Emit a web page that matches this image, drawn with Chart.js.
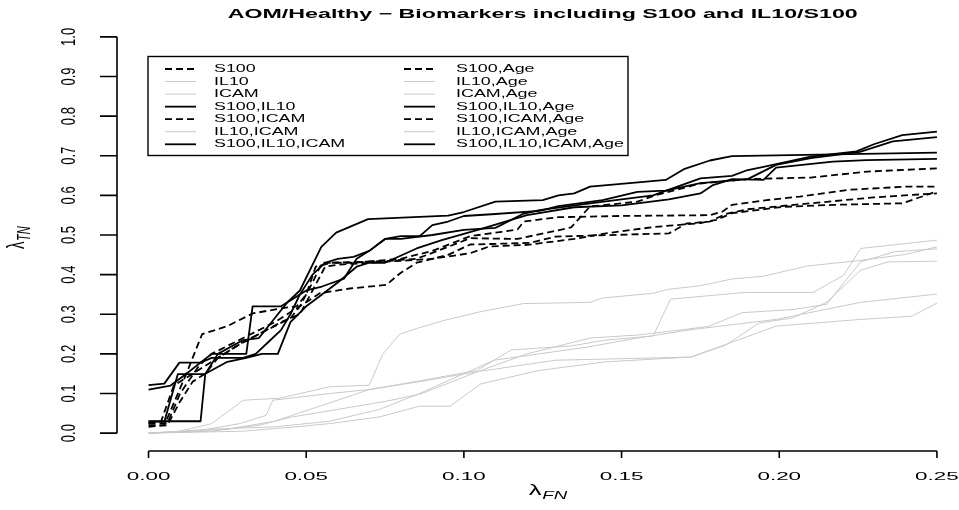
<!DOCTYPE html>
<html>
<head>
<meta charset="utf-8">
<script src="https://cdn.jsdelivr.net/npm/chart.js@4/dist/chart.umd.min.js"></script>
<style>
  body { margin: 0; background: #fff; }
  canvas { display: block; }
</style>
</head>
<body>
<canvas id="graf" width="959" height="510"></canvas>
<script>
// osi
const xTicks = [0, 0.05, 0.10, 0.15, 0.20, 0.25];
const xTickLabels = ['0.00', '0.05', '0.10', '0.15', '0.20', '0.25'];
const yTicks = [0, 0.1, 0.2, 0.3, 0.4, 0.5, 0.6, 0.7, 0.8, 0.9, 1.0];
const yTickLabels = ['0.0', '0.1', '0.2', '0.3', '0.4', '0.5', '0.6', '0.7', '0.8', '0.9', '1.0'];

const naslov = 'AOM/Healthy \u2212 Biomarkers including S100 and IL10/S100';
const imena = ['S100', 'IL10', 'ICAM', 'S100,IL10', 'S100,ICAM', 'IL10,ICAM', 'S100,IL10,ICAM'];

// krivulje [lambdaFN, lambdaTN]
const s100 = [[0,0.02],[0.005,0.02],[0.012,0.15],[0.017,0.25],[0.025,0.27],[0.033,0.302],[0.042,0.315],[0.047,0.32],[0.05,0.35],[0.053,0.42],[0.058,0.43],[0.075,0.434],[0.085,0.44],[0.095,0.47],[0.102,0.492],[0.117,0.49],[0.134,0.519],[0.14,0.572],[0.155,0.584],[0.161,0.601],[0.175,0.63],[0.19,0.641],[0.21,0.645],[0.228,0.66],[0.25,0.668]];
const il10 = [[0,0],[0.01,0.005],[0.02,0.024],[0.03,0.083],[0.0415,0.088],[0.0574,0.117],[0.07,0.121],[0.0743,0.2],[0.0797,0.25],[0.085,0.264],[0.094,0.285],[0.105,0.306],[0.119,0.327],[0.14,0.33],[0.144,0.341],[0.16,0.353],[0.165,0.363],[0.175,0.372],[0.185,0.389],[0.195,0.396],[0.209,0.422],[0.226,0.436],[0.24,0.451],[0.25,0.47]];
const icam = [[0,0],[0.02,0.01],[0.04,0.016],[0.0574,0.03],[0.0733,0.06],[0.0859,0.1],[0.1096,0.184],[0.1398,0.218],[0.155,0.24],[0.172,0.261],[0.199,0.287],[0.2258,0.33],[0.25,0.351]];
const s100Il10 = [[0,0.121],[0.005,0.125],[0.0098,0.178],[0.0165,0.178],[0.02,0.19],[0.03,0.19],[0.034,0.2],[0.038,0.23],[0.042,0.26],[0.045,0.3],[0.048,0.35],[0.052,0.4],[0.056,0.43],[0.06,0.44],[0.065,0.445],[0.07,0.46],[0.075,0.49],[0.08,0.497],[0.086,0.497],[0.09,0.525],[0.095,0.534],[0.1,0.548],[0.11,0.553],[0.124,0.561],[0.13,0.573],[0.144,0.588],[0.155,0.609],[0.164,0.612],[0.175,0.631],[0.19,0.641],[0.199,0.677],[0.21,0.694],[0.2256,0.71],[0.236,0.736],[0.25,0.747]];
const s100Icam = [[0,0.025],[0.006,0.025],[0.01,0.1],[0.016,0.17],[0.02,0.2],[0.025,0.22],[0.03,0.24],[0.04,0.28],[0.048,0.32],[0.052,0.38],[0.055,0.43],[0.065,0.43],[0.08,0.44],[0.09,0.46],[0.102,0.497],[0.112,0.508],[0.117,0.514],[0.119,0.534],[0.13,0.545],[0.15,0.548],[0.178,0.55],[0.182,0.559],[0.185,0.576],[0.196,0.588],[0.2065,0.597],[0.222,0.614],[0.24,0.622],[0.25,0.622]];
const il10Icam = [[0,0],[0.015,0.005],[0.0289,0.024],[0.0373,0.045],[0.0394,0.083],[0.0574,0.1],[0.07,0.11],[0.086,0.132],[0.104,0.158],[0.115,0.21],[0.134,0.22],[0.145,0.235],[0.16,0.245],[0.1655,0.338],[0.189,0.355],[0.2107,0.355],[0.2204,0.398],[0.2258,0.466],[0.25,0.487]];
const s100Il10Icam = [[0,0.029],[0.005,0.029],[0.0093,0.149],[0.018,0.149],[0.022,0.2],[0.03,0.235],[0.035,0.24],[0.04,0.29],[0.044,0.33],[0.048,0.36],[0.0548,0.47],[0.0595,0.506],[0.0696,0.54],[0.095,0.549],[0.1,0.558],[0.11,0.584],[0.125,0.588],[0.13,0.6],[0.135,0.605],[0.14,0.622],[0.157,0.634],[0.164,0.639],[0.17,0.667],[0.178,0.688],[0.185,0.699],[0.25,0.708]];
const s100Age = [[0,0.016],[0.006,0.02],[0.01,0.08],[0.014,0.13],[0.018,0.15],[0.022,0.19],[0.03,0.23],[0.04,0.27],[0.045,0.29],[0.048,0.32],[0.0543,0.353],[0.0638,0.365],[0.0754,0.374],[0.0797,0.403],[0.085,0.43],[0.095,0.45],[0.102,0.476],[0.121,0.48],[0.129,0.496],[0.165,0.504],[0.1706,0.529],[0.178,0.534],[0.183,0.553],[0.19,0.565],[0.21,0.58],[0.23,0.595],[0.25,0.605]];
const il10Age = [[0,0],[0.02,0.005],[0.035,0.02],[0.045,0.04],[0.06,0.06],[0.075,0.08],[0.086,0.098],[0.1053,0.158],[0.12,0.2],[0.14,0.24],[0.1557,0.248],[0.1774,0.269],[0.1882,0.304],[0.2044,0.312],[0.215,0.325],[0.2258,0.432],[0.2366,0.458],[0.25,0.465]];
const icamAge = [[0,0],[0.03,0.005],[0.0468,0.016],[0.0574,0.024],[0.0733,0.041],[0.0859,0.068],[0.0956,0.068],[0.1053,0.124],[0.1236,0.158],[0.145,0.18],[0.172,0.192],[0.199,0.27],[0.2258,0.287],[0.242,0.295],[0.25,0.328]];
const s100Il10Age = [[0,0.11],[0.007,0.12],[0.012,0.15],[0.02,0.2],[0.025,0.2],[0.031,0.2],[0.033,0.32],[0.042,0.32],[0.046,0.34],[0.05,0.36],[0.055,0.37],[0.062,0.39],[0.066,0.44],[0.07,0.46],[0.075,0.49],[0.08,0.49],[0.09,0.5],[0.1,0.513],[0.11,0.518],[0.1187,0.553],[0.124,0.563],[0.14,0.58],[0.15,0.59],[0.16,0.6],[0.175,0.643],[0.185,0.649],[0.19,0.664],[0.195,0.672],[0.21,0.698],[0.2245,0.711],[0.23,0.729],[0.239,0.752],[0.25,0.761]];
const s100IcamAge = [[0,0.025],[0.004,0.03],[0.008,0.12],[0.012,0.14],[0.016,0.16],[0.02,0.18],[0.028,0.22],[0.035,0.25],[0.042,0.28],[0.048,0.3],[0.052,0.36],[0.056,0.42],[0.06,0.425],[0.07,0.43],[0.09,0.44],[0.102,0.454],[0.108,0.471],[0.12,0.475],[0.135,0.49],[0.144,0.503],[0.16,0.52],[0.175,0.53],[0.18,0.538],[0.185,0.555],[0.201,0.571],[0.217,0.576],[0.239,0.58],[0.25,0.61]];
const il10IcamAge = [[0,0],[0.025,0.01],[0.04,0.03],[0.055,0.07],[0.07,0.11],[0.086,0.13],[0.1042,0.155],[0.129,0.184],[0.172,0.192],[0.183,0.222],[0.1936,0.278],[0.2044,0.291],[0.215,0.33],[0.2258,0.411],[0.2345,0.432],[0.25,0.434]];
const s100Il10IcamAge = [[0,0.03],[0.005,0.03],[0.0165,0.03],[0.018,0.15],[0.025,0.18],[0.031,0.19],[0.036,0.2],[0.041,0.2],[0.045,0.28],[0.05,0.32],[0.055,0.35],[0.06,0.38],[0.066,0.42],[0.07,0.43],[0.075,0.43],[0.085,0.466],[0.093,0.487],[0.105,0.514],[0.12,0.55],[0.135,0.57],[0.15,0.575],[0.165,0.59],[0.175,0.605],[0.179,0.626],[0.185,0.641],[0.195,0.639],[0.199,0.67],[0.217,0.685],[0.2277,0.689],[0.25,0.692]];

const brezStarosti = [s100, il10, icam, s100Il10, s100Icam, il10Icam, s100Il10Icam];
const sStarostjo = [s100Age, il10Age, icamAge, s100Il10Age, s100IcamAge, il10IcamAge, s100Il10IcamAge];
const tipi = ['dash', 'gray', 'gray', 'solid', 'dash', 'gray', 'solid'];

const slog = {
  dash:  { borderColor: '#000', borderWidth: 1.8, borderDash: [7, 4], order: 0 },
  solid: { borderColor: '#000', borderWidth: 1.8, borderDash: [], order: 0 },
  gray:  { borderColor: '#c9c9c9', borderWidth: 1, borderDash: [], order: 1 }
};

const datasets = [];
[brezStarosti, sStarostjo].forEach((skupina, k) => {
  skupina.forEach((tocke, i) => {
    datasets.push(Object.assign({
      label: imena[i] + (k ? ',Age' : ''),
      data: tocke.map(p => ({ x: p[0], y: p[1] })),
      pointRadius: 0,
      tension: 0,
      fill: false,
      borderJoinStyle: 'round'
    }, slog[tipi[i]]));
  });
});

const FONT = '"Liberation Sans", Arial, sans-serif';

// raztegnjen napis (graf je bil vodoravno raztegnjen)
function napis(ctx, txt, x, y, font, sx, align) {
  ctx.save();
  ctx.font = font;
  ctx.translate(x, y);
  ctx.scale(sx, 1);
  ctx.textAlign = align || 'center';
  ctx.textBaseline = 'middle';
  ctx.fillText(txt, 0, 0);
  ctx.restore();
}

const rOsi = {
  id: 'rOsi',
  afterDraw(chart) {
    const { ctx, chartArea: a, scales: { x, y } } = chart;
    ctx.save();
    ctx.strokeStyle = '#000';
    ctx.fillStyle = '#000';
    ctx.lineWidth = 1.6;
    ctx.setLineDash([]);

    // x os
    const yOs = a.bottom + 2;
    ctx.beginPath();
    ctx.moveTo(x.getPixelForValue(xTicks[0]), yOs);
    ctx.lineTo(x.getPixelForValue(xTicks[xTicks.length - 1]), yOs);
    xTicks.forEach(v => {
      const px = x.getPixelForValue(v);
      ctx.moveTo(px, yOs);
      ctx.lineTo(px, yOs + 7);
    });
    // y os
    const xOs = a.left;
    ctx.moveTo(xOs, y.getPixelForValue(yTicks[0]));
    ctx.lineTo(xOs, y.getPixelForValue(yTicks[yTicks.length - 1]));
    yTicks.forEach(v => {
      const py = y.getPixelForValue(v);
      ctx.moveTo(xOs, py);
      ctx.lineTo(xOs - 17, py);
    });
    ctx.stroke();

    xTicks.forEach((v, i) => napis(ctx, xTickLabels[i], x.getPixelForValue(v), yOs + 26, '11.5px ' + FONT, 1.95));
    yTicks.forEach((v, i) => {
      ctx.save();
      ctx.translate(69, y.getPixelForValue(v));
      ctx.rotate(-Math.PI / 2);
      ctx.scale(1, 1.6);
      ctx.font = '13px ' + FONT;
      ctx.textAlign = 'center';
      ctx.textBaseline = 'middle';
      ctx.fillText(yTickLabels[i], 0, 0);
      ctx.restore();
    });

    // naslov
    const sredina = (a.left + x.getPixelForValue(0.26)) / 2;
    const fNaslov = 'bold 12.5px ' + FONT;
    ctx.font = fNaslov;
    napis(ctx, naslov, sredina, 15, fNaslov, 630 / ctx.measureText(naslov).width);

    // oznake osi: lambda_FN in lambda_TN
    ctx.save();
    ctx.translate(sredina - 14, 491);
    ctx.scale(1.7, 1);
    ctx.font = '15px ' + FONT;
    ctx.textBaseline = 'middle';
    ctx.fillText('\u03bb', 0, 0);
    ctx.font = 'italic 11px ' + FONT;
    ctx.fillText('FN', 8, 5);
    ctx.restore();

    ctx.save();
    ctx.translate(17, (a.top + a.bottom) / 2 + 14);
    ctx.rotate(-Math.PI / 2);
    ctx.scale(1, 1.6);
    ctx.font = '15px ' + FONT;
    ctx.textBaseline = 'middle';
    ctx.fillText('\u03bb', 0, 0);
    ctx.font = 'italic 11px ' + FONT;
    ctx.fillText('TN', 8, 5);
    ctx.restore();

    // legenda
    ctx.lineWidth = 1.4;
    ctx.strokeRect(148, 56.5, 480, 99);
    const fLeg = '11px ' + FONT;
    ctx.font = fLeg;
    const sxLeg = 168 / ctx.measureText('S100,IL10,ICAM,Age').width;
    const stolpci = [{ l: 165, t: 214 }, { l: 404, t: 456 }];
    chart.data.datasets.forEach((ds, j) => {
      const s = stolpci[Math.floor(j / 7)];
      const vy = 69 + (j % 7) * 12.55;
      ctx.save();
      ctx.strokeStyle = ds.borderColor;
      ctx.lineWidth = ds.borderWidth;
      ctx.setLineDash(ds.borderDash);
      ctx.beginPath();
      ctx.moveTo(s.l, vy);
      ctx.lineTo(s.l + 31, vy);
      ctx.stroke();
      ctx.restore();
      napis(ctx, ds.label, s.t, vy, fLeg, sxLeg, 'left');
    });
    ctx.restore();
  }
};

new Chart(document.getElementById('graf'), {
  type: 'line',
  data: { datasets },
  options: {
    responsive: false,
    animation: false,
    events: [],
    layout: { padding: { left: 117, right: 0, top: 21, bottom: 61 } },
    scales: {
      x: { type: 'linear', min: -0.01, max: 0.257, display: false },
      y: { type: 'linear', min: -0.04, max: 1.04, display: false }
    },
    plugins: { legend: { display: false }, tooltip: { enabled: false }, title: { display: false } }
  },
  plugins: [rOsi]
});
</script>
</body>
</html>
